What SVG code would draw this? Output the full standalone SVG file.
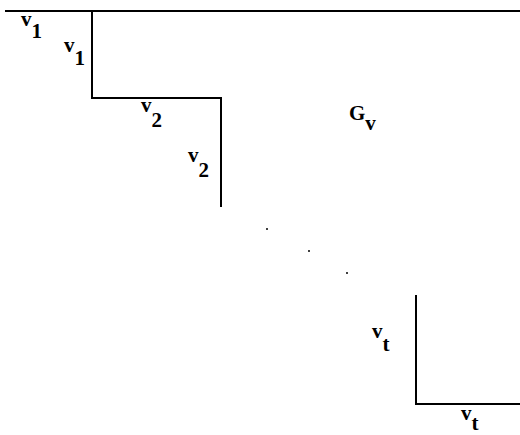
<svg xmlns="http://www.w3.org/2000/svg" width="520" height="435" viewBox="0 0 520 435">
<style>
.ln{fill:none;stroke:#000;stroke-width:2;stroke-linecap:butt;stroke-linejoin:miter}
.lb{font-family:"Liberation Serif","Times New Roman",serif;font-weight:bold;font-size:21px;fill:#000}
.dot{fill:#000}
</style>
<rect width="520" height="435" fill="#fff"/>
<g id="connectors">
<path class="ln" d="M5,11 H520"/>
<path class="ln" d="M92,11 V98 H221 V207"/>
<path class="ln" d="M416,295 V404 H520"/>
</g>
<g id="dots">
<circle class="dot" cx="267" cy="229" r="1"/>
<circle class="dot" cx="309" cy="251" r="1"/>
<circle class="dot" cx="347" cy="273" r="1"/>
</g>
<g id="label-v1-top"><text class="lb" x="21" y="26">v<tspan dy="12">1</tspan></text></g>
<g id="label-v1-side"><text class="lb" x="64" y="52">v<tspan dy="13">1</tspan></text></g>
<g id="label-v2-top"><text class="lb" x="141" y="112">v<tspan dy="15">2</tspan></text></g>
<g id="label-v2-side"><text class="lb" x="188" y="162">v<tspan dy="15">2</tspan></text></g>
<g id="label-Gv"><text class="lb" x="349" y="120" font-size="19">G<tspan dy="10" font-size="21">v</tspan></text></g>
<g id="label-vt-side"><text class="lb" x="372" y="338">v<tspan dy="13">t</tspan></text></g>
<g id="label-vt-bottom"><text class="lb" x="461" y="420">v<tspan dy="10">t</tspan></text></g>
</svg>
